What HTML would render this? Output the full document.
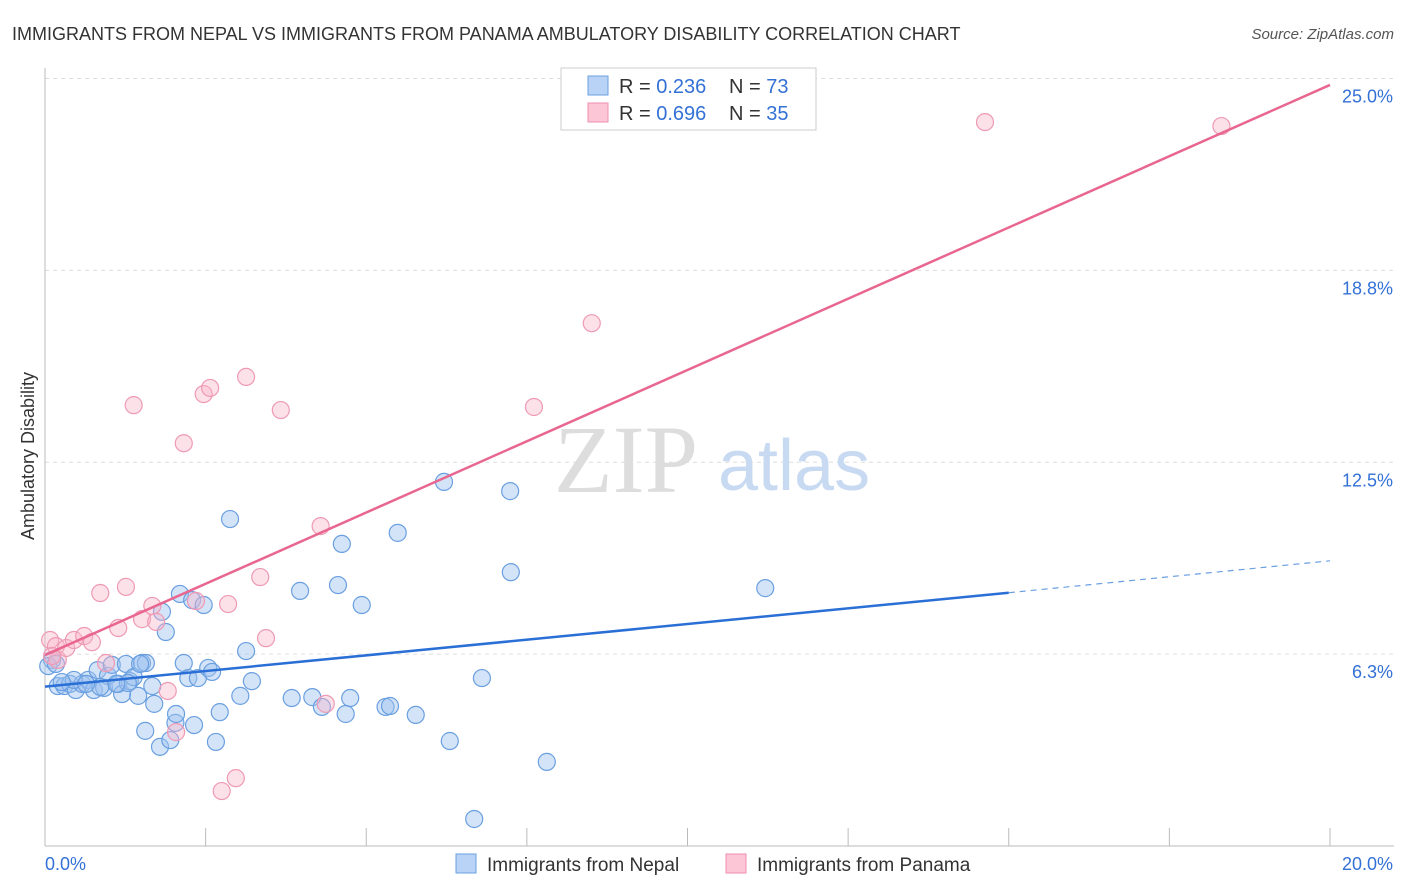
<!DOCTYPE html>
<html><head><meta charset="utf-8"><style>
body{margin:0;background:#fff;font-family:"Liberation Sans",sans-serif;}
svg{display:block}
</style></head><body>
<svg id="chart" width="1406" height="892" font-family="Liberation Sans, sans-serif">
<text x="12" y="40" font-size="18" fill="#333">IMMIGRANTS FROM NEPAL VS IMMIGRANTS FROM PANAMA AMBULATORY DISABILITY CORRELATION CHART</text>
<text x="1394" y="39" font-size="15" fill="#555" font-style="italic" text-anchor="end">Source: ZipAtlas.com</text>
<text x="34" y="456" font-size="18" fill="#333" transform="rotate(-90 34 456)" text-anchor="middle">Ambulatory Disability</text>
<g id="grid"></g>
<g id="ticks"></g>
<text x="554" y="492" font-size="96" fill="#ddd" font-family="Liberation Serif, serif">ZIP</text>
<text x="718" y="490" font-size="72" fill="#c8daf2">atlas</text>
<g id="pts"></g>
<g id="lines"></g>
<g>
<rect x="561" y="68" width="255" height="62" fill="#fff" stroke="#ccc"/>
<rect x="588" y="76" width="20" height="19" fill="#b8d3f5" stroke="#6a9fe0"/>
<rect x="588" y="103" width="20" height="19" fill="#fcc6d6" stroke="#ee8fad"/>
<text x="619" y="93" font-size="20" fill="#333">R = <tspan fill="#3371d6">0.236</tspan></text>
<text x="729" y="93" font-size="20" fill="#333">N = <tspan fill="#3371d6">73</tspan></text>
<text x="619" y="120" font-size="20" fill="#333">R = <tspan fill="#3371d6">0.696</tspan></text>
<text x="729" y="120" font-size="20" fill="#333">N = <tspan fill="#3371d6">35</tspan></text>
</g>
<g>
<rect x="456" y="854" width="20" height="19" fill="#b8d3f5" stroke="#6a9fe0"/>
<text x="487" y="871" font-size="19" fill="#333">Immigrants from Nepal</text>
<rect x="726" y="854" width="20" height="19" fill="#fcc6d6" stroke="#ee8fad"/>
<text x="757" y="871" font-size="19" fill="#333">Immigrants from Panama</text>
</g>
</svg>
<script>
const xTicks=[0,2.5,5,7.5,10,12.5,15,17.5,20];
const yTickVals=[6.25,12.5,18.75,25];
const yTickLabels=["6.3%","12.5%","18.8%","25.0%"];
const nepalX=[0.11,0.2,0.3,0.39,0.48,0.58,0.67,0.76,0.82,0.92,0.98,1.04,1.14,1.2,1.26,1.32,1.38,1.45,1.51,1.57,1.67,1.7,1.82,1.88,2.03,2.04,2.1,2.16,2.23,2.29,2.32,2.38,2.47,2.54,2.6,2.66,2.72,2.88,3.04,3.13,3.22,3.84,3.97,4.16,4.31,4.56,4.62,4.68,4.75,4.93,5.3,5.37,5.49,5.77,6.21,6.3,6.68,6.8,7.24,7.25,7.81,11.21,1.56,1.79,1.95,1.29,1.11,0.86,0.45,0.64,0.26,0.05,0.17,1.48];
const nepalY=[6.06,5.21,5.21,5.28,5.08,5.28,5.41,5.08,5.73,5.15,5.54,5.9,5.28,4.95,5.93,5.37,5.5,4.89,5.96,5.96,5.21,4.63,7.63,6.97,4.01,4.3,8.21,5.96,5.47,8.01,3.94,5.47,7.85,5.8,5.67,3.39,4.36,10.65,4.89,6.35,5.37,4.82,8.31,4.85,4.53,8.5,9.84,4.3,4.82,7.85,4.53,4.56,10.2,4.27,11.86,3.42,0.88,5.47,11.56,8.92,2.74,8.4,3.75,3.23,3.45,5.31,5.28,5.18,5.41,5.28,5.34,5.86,5.93,5.93];
const panamaX=[0.08,0.17,0.2,0.33,0.45,0.61,0.73,0.86,0.95,1.14,1.26,1.38,1.51,1.67,1.73,1.91,2.04,2.16,2.35,2.47,2.57,2.75,2.85,2.97,3.13,3.35,3.44,3.67,4.29,4.37,7.61,8.51,14.63,18.31,0.11];
const panamaY=[6.71,6.51,6.06,6.45,6.71,6.84,6.64,8.24,5.96,7.1,8.44,14.36,7.39,7.82,7.3,5.05,3.71,13.12,7.98,14.72,14.92,1.79,7.88,2.21,15.28,8.76,6.77,14.2,10.42,4.63,14.3,17.03,23.58,23.45,6.19];
const blueLine=[0,5.19,15,8.25,20,9.29];
const pinkLine=[0,6.22,20,24.79];
const X=v=>45+v/20*1285, Y=v=>846-v*30.7;
const NS="http://www.w3.org/2000/svg";
function mk(t,a,p){const e=document.createElementNS(NS,t);for(const k in a)e.setAttribute(k,a[k]);p.appendChild(e);return e;}
const grid=document.getElementById('grid'),ticks=document.getElementById('ticks');
yTickVals.forEach((v,i)=>{
const l=mk('line',{x1:45,x2:1394,y1:Y(v),y2:Y(v),stroke:'#ddd','stroke-dasharray':'4,4'},grid);


const t=mk('text',{x:1393,y:Y(v)+24,'font-size':18,fill:'#3371d6','text-anchor':'end'},ticks);
t.textContent=yTickLabels[i];


});
mk('line',{x1:45,x2:45,y1:68,y2:846,stroke:'#bbb'},ticks);
mk('line',{x1:45,x2:1394,y1:846,y2:846,stroke:'#bbb'},ticks);
xTicks.forEach(v=>{const l=mk('line',{x1:X(v),x2:X(v),y1:828,y2:846,stroke:'#bbb'},ticks);

});
let t0=mk('text',{x:45,y:870,'font-size':18,fill:'#3371d6'},ticks);t0.textContent='0.0%';


let t1=mk('text',{x:1393,y:870,'font-size':18,fill:'#3371d6','text-anchor':'end'},ticks);t1.textContent='20.0%';


const pts=document.getElementById('pts');
nepalX.forEach((x,i)=>{const c=mk('circle',{cx:X(x),cy:Y(nepalY[i]),r:8.5,fill:'rgba(160,196,240,0.45)',stroke:'#6a9fe0','stroke-width':1.2},pts);

});
panamaX.forEach((x,i)=>{const c=mk('circle',{cx:X(x),cy:Y(panamaY[i]),r:8.5,fill:'rgba(250,180,200,0.4)',stroke:'#ee9ab5','stroke-width':1.2},pts);

});
const lines=document.getElementById('lines');
let b=mk('line',{x1:X(blueLine[0]),y1:Y(blueLine[1]),x2:X(blueLine[2]),y2:Y(blueLine[3]),stroke:'#2a6fd6','stroke-width':2.5},lines);


let bd=mk('line',{x1:X(blueLine[2]),y1:Y(blueLine[3]),x2:X(blueLine[4]),y2:Y(blueLine[5]),stroke:'#6a9fe0','stroke-width':1.2,'stroke-dasharray':'6,5'},lines);


let p=mk('line',{x1:X(pinkLine[0]),y1:Y(pinkLine[1]),x2:X(pinkLine[2]),y2:Y(pinkLine[3]),stroke:'#e8668f','stroke-width':2.5},lines);


</script>
</body></html>
